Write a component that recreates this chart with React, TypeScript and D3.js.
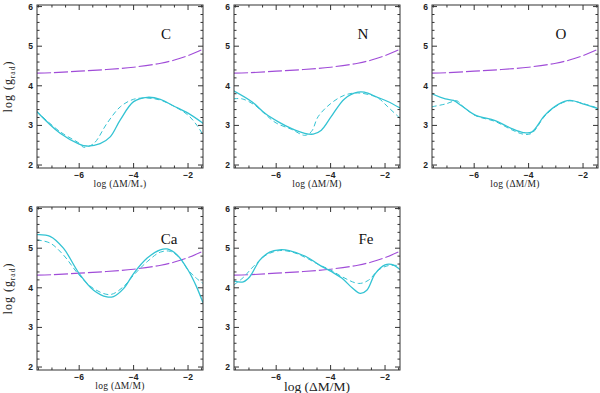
import React from 'react';
import * as d3 from 'd3';

type Pt = [number, number];

// log(M) coordinate, log(g_rad)
const gNeeded: Pt[] = [[-7.55, 4.32], [-7, 4.33], [-6, 4.37], [-5, 4.41], [-4, 4.47], [-3, 4.57], [-2.5, 4.65], [-2, 4.76], [-1.45, 4.92]];

const cSolid: Pt[] = [[-7.56, 3.35], [-6.7, 2.8], [-6, 2.53], [-5.72, 2.48], [-5.23, 2.54], [-4.86, 2.71], [-4.49, 3.14], [-4, 3.6], [-3.5, 3.71], [-3.02, 3.66], [-2.53, 3.49], [-2, 3.31], [-1.44, 3.05]];
const cDash: Pt[] = [[-7.56, 3.35], [-6.7, 2.84], [-6, 2.55], [-5.84, 2.45], [-5.47, 2.54], [-4.98, 3.05], [-4.49, 3.47], [-4, 3.66], [-3.5, 3.69], [-3.02, 3.64], [-2.53, 3.49], [-2, 3.26], [-1.67, 3.0], [-1.44, 2.75]];

const nSolid: Pt[] = [[-7.58, 3.88], [-6.88, 3.59], [-6.4, 3.3], [-5.92, 3.09], [-5.43, 2.92], [-4.95, 2.8], [-4.64, 2.78], [-4.34, 2.88], [-3.98, 3.22], [-3.49, 3.67], [-3.0, 3.84], [-2.76, 3.84], [-2.28, 3.71], [-1.92, 3.61], [-1.45, 3.44]];
const nDash: Pt[] = [[-7.58, 3.67], [-7.25, 3.67], [-6.76, 3.5], [-6.4, 3.28], [-6, 3.06], [-5.43, 2.9], [-4.95, 2.75], [-4.7, 2.85], [-4.46, 3.22], [-4, 3.55], [-3.5, 3.76], [-3.0, 3.82], [-2.28, 3.7], [-1.9, 3.47], [-1.45, 3.18]];

const oSolid: Pt[] = [[-7.56, 3.8], [-7.06, 3.67], [-6.76, 3.63], [-6.45, 3.49], [-5.96, 3.26], [-5.23, 3.12], [-4.62, 2.92], [-4.2, 2.82], [-3.89, 2.83], [-3.4, 3.26], [-2.91, 3.53], [-2.49, 3.63], [-1.94, 3.53], [-1.43, 3.42]];
const oDash: Pt[] = [[-7.56, 3.47], [-7.06, 3.54], [-6.63, 3.62], [-6.45, 3.5], [-5.96, 3.25], [-5.23, 3.1], [-4.62, 2.89], [-4.2, 2.78], [-3.89, 2.8], [-3.4, 3.24], [-2.91, 3.52], [-2.49, 3.62], [-1.94, 3.54], [-1.43, 3.43]];

const caSolid: Pt[] = [[-7.56, 5.34], [-7.07, 5.3], [-6.58, 5.0], [-6, 4.36], [-5.47, 3.94], [-4.98, 3.77], [-4.74, 3.78], [-4.37, 3.98], [-4, 4.36], [-3.5, 4.75], [-3.02, 4.96], [-2.77, 4.98], [-2.4, 4.83], [-2, 4.45], [-1.69, 4.03], [-1.45, 3.62]];
const caDash: Pt[] = [[-7.56, 5.21], [-7.07, 5.13], [-6.58, 4.83], [-6, 4.32], [-5.47, 3.98], [-4.86, 3.83], [-4.37, 4.03], [-4, 4.32], [-3.5, 4.66], [-3.02, 4.9], [-2.65, 4.92], [-2.3, 4.75], [-2, 4.45], [-1.69, 4.24], [-1.45, 4.11]];

const feSolid: Pt[] = [[-7.56, 4.17], [-7.21, 4.15], [-6.97, 4.28], [-6.6, 4.7], [-6.24, 4.9], [-5.88, 4.96], [-5.52, 4.94], [-4.91, 4.79], [-4.42, 4.58], [-4, 4.42], [-3.58, 4.24], [-3.21, 4.0], [-2.91, 3.86], [-2.67, 3.94], [-2.36, 4.36], [-2, 4.58], [-1.76, 4.59], [-1.45, 4.46]];
const feDash: Pt[] = [[-7.56, 4.07], [-7.21, 4.26], [-6.85, 4.53], [-6.36, 4.83], [-5.88, 4.94], [-5.4, 4.9], [-4.91, 4.76], [-4.42, 4.58], [-4, 4.45], [-3.58, 4.28], [-2.97, 4.11], [-2.61, 4.19], [-2.24, 4.45], [-1.88, 4.56], [-1.45, 4.56]];

const elements = ['C', 'N', 'O', 'Ca', 'Fe'];
const solids = [cSolid, nSolid, oSolid, caSolid, feSolid];
const dashes = [cDash, nDash, oDash, caDash, feDash];
const xMajor = [-6, -4, -2];
const yMajor = [2, 3, 4, 5, 6];

const W = 166;
const H = 163;
const lefts = [37, 234, 432, 37, 234];
const tops = [5, 5, 5, 207, 207];

const cyan = '#33c3d3';
const purple = '#a04cd8';

const x = d3.scaleLinear().domain([-7.55, -1.45]).range([0, W]);
const y = d3.scaleLinear().domain([1.925, 6.04]).range([H, 0]);
const line = d3.line<Pt>().x(d => x(d[0])).y(d => y(d[1])).curve(d3.curveCatmullRom.alpha(0.5));

const xMinor = x.ticks(12).filter(v => !xMajor.includes(v));
const yMinor = y.ticks(20).filter(v => !yMajor.some(m => Math.abs(m - v) < 1e-6));

const sans = 'Liberation Sans, Arial, sans-serif';
const serif = 'Liberation Serif, serif';

const Panel = ({ i }: { i: number }) => {
    const frame = '#333';
    return (
        <g transform={`translate(${lefts[i]},${tops[i]})`}>
            <defs>
                <clipPath id={`clip${i}`}>
                    <rect x={0} y={0} width={W} height={H} />
                </clipPath>
            </defs>
            <g clipPath={`url(#clip${i})`} fill="none">
                <path d={line(gNeeded) || ''} stroke={purple} strokeWidth={1.1} strokeDasharray="14,3" />
                <path d={line(dashes[i]) || ''} stroke={cyan} strokeWidth={1} strokeDasharray="5,3" />
                <path d={line(solids[i]) || ''} stroke={cyan} strokeWidth={1.3} />
            </g>
            <rect x={0} y={0} width={W} height={H} fill="none" stroke={frame} strokeWidth={1} />
            {xMajor.map(v => (
                <g key={'xM' + v}>
                    <line x1={x(v)} x2={x(v)} y1={H} y2={H - 5} stroke={frame} />
                    <line x1={x(v)} x2={x(v)} y1={0} y2={5} stroke={frame} />
                    <text x={x(v)} y={H + 10} textAnchor="middle" fontSize={8.5} fontWeight="bold" fontFamily={sans} fill="#222">{'\u2212' + Math.abs(v)}</text>
                </g>
            ))}
            {xMinor.map(v => (
                <g key={'xm' + v}>
                    <line x1={x(v)} x2={x(v)} y1={H} y2={H - 2.5} stroke={frame} />
                    <line x1={x(v)} x2={x(v)} y1={0} y2={2.5} stroke={frame} />
                </g>
            ))}
            {yMajor.map(v => (
                <g key={'yM' + v}>
                    <line x1={0} x2={5} y1={y(v)} y2={y(v)} stroke={frame} />
                    <line x1={W} x2={W - 5} y1={y(v)} y2={y(v)} stroke={frame} />
                    <text x={-4} y={y(v) + 3} textAnchor="end" fontSize={8.5} fontWeight="bold" fontFamily={sans} fill="#222">{v}</text>
                </g>
            ))}
            {yMinor.map(v => (
                <g key={'ym' + v}>
                    <line x1={0} x2={2.5} y1={y(v)} y2={y(v)} stroke={frame} />
                    <line x1={W} x2={W - 2.5} y1={y(v)} y2={y(v)} stroke={frame} />
                </g>
            ))}
            <text x={i >= 3 ? 132 : 129} y={i >= 3 ? 37 : 34} textAnchor="middle" fontSize={15} fontFamily={serif} fill="#111">{elements[i]}</text>
            {i === 4 ? (
                <text x={W / 2} y={H + 21} textAnchor="middle" fontSize={13.5} fontFamily={serif} fill="#222">log (ΔM/M)</text>
            ) : (
                <text x={W / 2} y={H + 19} textAnchor="middle" fontSize={9.5} fontFamily={serif} fill="#222" letterSpacing={0.3}>
                    log (ΔM/M{i === 0 ? <tspan fontSize={6} dy={2}>*</tspan> : null}{i === 0 ? <tspan dy={-2}>)</tspan> : ')'}
                </text>
            )}
            {i % 3 === 0 ? (
                <text transform={`translate(-25.5,${H / 2}) rotate(-90)`} textAnchor="middle" fontSize={12} fontFamily={serif} fill="#222" letterSpacing={1}>
                    log (g<tspan fontSize={7.5} dy={3}>rad</tspan><tspan dy={-3}>)</tspan>
                </text>
            ) : null}
        </g>
    );
};

export default function App() {
    return (
        <svg width={600} height={393} style={{ position: 'absolute', left: 0, top: 0, background: '#fff' }}>
            {elements.map((e, i) => <Panel key={e} i={i} />)}
        </svg>
    );
}
